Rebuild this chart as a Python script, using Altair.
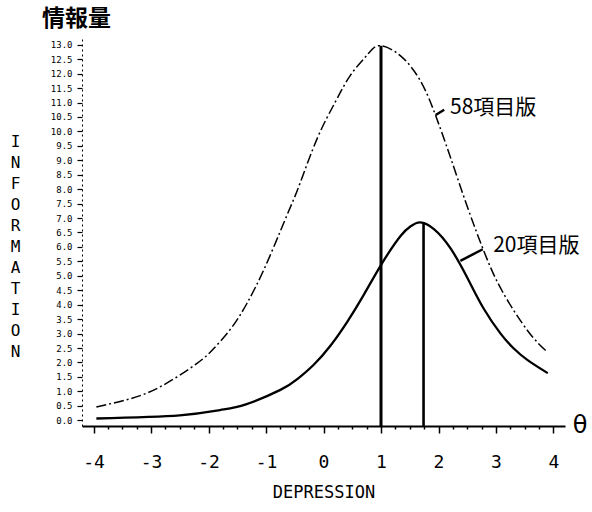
import altair as alt
import pandas as pd

# ---- data ----
theta_58 = [-3.95, -3.35, -2.8, -2.2, -1.9, -1.6, -1.33, -1.04, -0.75, -0.55, -0.4, -0.1,
            0.2, 0.47, 0.76, 0.98, 1.35, 1.7, 1.95, 2.2, 2.5, 2.8, 3.1, 3.55, 3.9]
info_58 = [0.46, 0.75, 1.2, 1.97, 2.5, 3.2, 4.05, 5.2, 6.55, 7.5, 8.25, 9.8,
           11.0, 11.95, 12.65, 12.97, 12.6, 11.7, 10.55, 9.15, 7.4, 5.8, 4.5, 3.1, 2.35]

theta_20 = [-3.95, -2.5, -1.8, -1.35, -0.75, -0.45, -0.17, 0.12, 0.41, 0.7, 1.02, 1.34,
            1.52, 1.68, 1.92, 2.21, 2.51, 2.79, 3.08, 3.3, 3.55, 3.9]
info_20 = [0.06, 0.17, 0.35, 0.55, 1.05, 1.43, 1.92, 2.58, 3.4, 4.34, 5.44, 6.38,
           6.72, 6.85, 6.62, 5.95, 4.9, 3.85, 3.0, 2.5, 2.08, 1.63]

peak_theta = [1.0, 1.74]
peak_info = [12.97, 6.85]
peak_width = [3.0, 2.6]

series_labels = ["58項目版", "20項目版"]
label_theta = [2.2, 2.95]
label_info = [10.81, 6.03]
leader_theta = [1.95, 2.38]
leader_info = [10.57, 5.52]
leader_theta2 = [2.10, 2.77]
leader_info2 = [10.75, 5.92]

x_tick_values = [-4, -3.75, -3.5, -3.25, -3, -2.75, -2.5, -2.25, -2, -1.75, -1.5, -1.25,
                 -1, -0.75, -0.5, -0.25, 0, 0.25, 0.5, 0.75, 1, 1.25, 1.5, 1.75,
                 2, 2.25, 2.5, 2.75, 3, 3.25, 3.5, 3.75, 4]
y_tick_values = [0, 0.5, 1, 1.5, 2, 2.5, 3, 3.5, 4, 4.5, 5, 5.5, 6, 6.5, 7, 7.5, 8, 8.5,
                 9, 9.5, 10, 10.5, 11, 11.5, 12, 12.5, 13]

X_DOMAIN = [-4.2, 4.2]
Y_DOMAIN = [-0.2, 13.2]

chart_title = "情報量"
x_title = "DEPRESSION"
y_title_letters = ["I", "N", "F", "O", "R", "M", "A", "T", "I", "O", "N"]

# ---- tables ----
df58 = pd.DataFrame({"theta": theta_58, "info": info_58})
df20 = pd.DataFrame({"theta": theta_20, "info": info_20})
dfpeak = pd.DataFrame({"theta": peak_theta, "info": peak_info,
                       "base": [Y_DOMAIN[0]] * len(peak_theta), "w": peak_width})
dflab = pd.DataFrame({"theta": label_theta, "info": label_info, "text": series_labels})
dflead = pd.DataFrame({"theta": leader_theta, "info": leader_info,
                       "theta2": leader_theta2, "info2": leader_info2})
dfsym = pd.DataFrame({"t": ["θ"]})
dftitle = pd.DataFrame({"t": [chart_title]})

xscale = alt.Scale(domain=X_DOMAIN, nice=False, zero=False)
yscale = alt.Scale(domain=Y_DOMAIN, nice=False, zero=False)

x_axis = alt.Axis(
    values=x_tick_values,
    labelExpr="datum.value % 1 == 0 ? '' + datum.value : ''",
    title=x_title,
    titleFont="DejaVu Sans Mono", titleFontSize=17, titleFontWeight="normal",
    titleColor="black", titleY=66, titleBaseline="middle",
    labelFont="DejaVu Sans Mono", labelFontSize=18, labelColor="black",
    labelPadding=20, labelOverlap=False, labelFlush=False,
    domainColor="black", domainWidth=2,
    tickColor="black", tickWidth=1.5,
    tickSize={"condition": {"test": "datum.value % 1 === 0", "value": 7}, "value": 3},
    grid=False,
)
y_axis = alt.Axis(
    values=y_tick_values, format=".1f",
    title=y_title_letters, titleAngle=0, titleX=-67, titleY=94,
    titleBaseline="top", titleAlign="center", titleLineHeight=21,
    titleFont="DejaVu Sans Mono", titleFontSize=16, titleFontWeight="normal",
    titleColor="black",
    labelFont="DejaVu Sans Mono", labelFontSize=9, labelColor="black",
    labelPadding=5, labelOverlap=False, labelFlush=False,
    domainColor="black", domainDash=[2, 3], domainWidth=1,
    tickColor="black", tickSize=5, tickWidth=1.2, grid=False,
)

X = alt.X("theta:Q", scale=xscale, axis=x_axis)
Y = alt.Y("info:Q", scale=yscale, axis=y_axis)

line58 = alt.Chart(df58).mark_line(
    color="black", strokeWidth=1.5, strokeDash=[10, 3, 2, 3], interpolate="natural"
).encode(x=X, y=Y)

line20 = alt.Chart(df20).mark_line(
    color="black", strokeWidth=2.3, interpolate="natural"
).encode(x=X, y=Y)

rules = alt.Chart(dfpeak).mark_rule(color="black").encode(
    x=X, y=Y, y2="base:Q",
    strokeWidth=alt.StrokeWidth("w:Q", scale=None, legend=None),
)

leaders = alt.Chart(dflead).mark_rule(color="black", strokeWidth=2.5).encode(
    x=X, y=Y, x2="theta2:Q", y2="info2:Q"
)

labels = alt.Chart(dflab).mark_text(
    align="left", baseline="middle", font="Noto Sans CJK JP", fontSize=21, color="black"
).encode(x=X, y=Y, text="text:N")

sym = alt.Chart(dfsym).mark_text(
    align="center", baseline="middle", font="DejaVu Sans", fontSize=24, color="black"
).encode(x=alt.value(498), y=alt.value(387), text="t:N")

title = alt.Chart(dftitle).mark_text(
    align="left", baseline="middle", font="Noto Sans CJK JP", fontSize=23,
    fontWeight="bold", color="black"
).encode(x=alt.value(-40), y=alt.value(-20), text="t:N")

chart = alt.layer(line58, line20, rules, leaders, labels, sym, title).properties(
    width=483, height=387,
    autosize=alt.AutoSizeParams(type="none"),
    padding={"left": 82, "top": 39, "right": 27, "bottom": 86},
    background="white",
).configure_view(stroke=None)

chart.save("out.html", embed_options={"renderer": "svg", "actions": False})
